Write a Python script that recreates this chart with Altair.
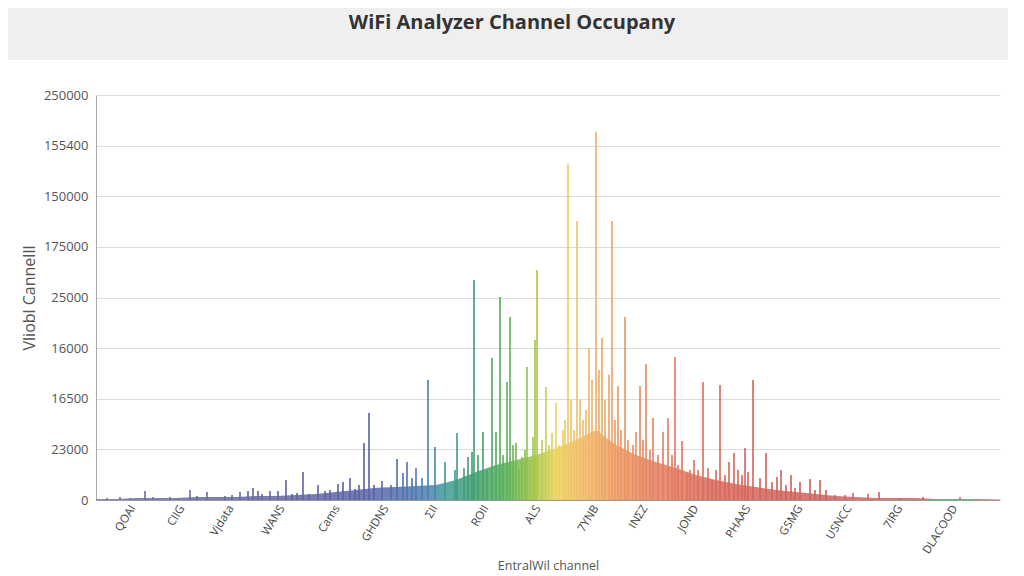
import json
import altair as alt
import pandas as pd

TITLE = "WiFi Analyzer Channel Occupany"
Y_TITLE = "Vliobl Cannelll"
X_TITLE = "EntralWil channel"

# y axis: evenly spaced gridlines carrying these labels (bottom -> top)
Y_LABELS = ["0", "23000", "16500", "16000", "25000", "175000", "150000", "155400", "250000"]
Y_STEP = 25000

# x axis tick positions (channel bins) and their labels
X_TICKS = [37, 86, 135, 186, 241, 290, 339, 390, 442, 500, 549, 600, 652, 704, 753, 804, 859]
X_LABELS = ["QOAI", "CIIG", "Vįdata", "WANS", "Cams", "GHDNS", "ΣII", "ROII", "ALS",
            "7YNB", "INΣZ", "JOND", "PHAAS", "GSMG", "USNCC", "7IRG", "DLACOOD"]
X_MAX = 904

# individual spikes: channel bin and occupancy value
SPIKE_X = [11, 24, 34, 49, 57, 74, 82, 94, 101, 111, 129, 136, 144, 152, 157, 162, 166, 174,
           182, 190, 196, 201, 207, 213, 222, 229, 234, 242, 247, 254, 259, 263, 268, 273,
           278, 286, 295, 301, 307, 311, 316, 320, 326, 332, 339, 349, 359, 361, 368, 372,
           376, 378, 382, 387, 391, 396, 400, 404, 407, 411, 414, 417, 420, 423, 426, 429,
           431, 434, 437, 439, 441, 446, 450, 453, 456, 460, 463, 467, 469, 472, 475, 478,
           481, 484, 487, 490, 493, 496, 500, 503, 506, 509, 513, 516, 519, 522, 525, 529,
           532, 537, 540, 544, 547, 550, 554, 557, 562, 567, 572, 576, 579, 582, 586, 591,
           594, 598, 602, 607, 612, 616, 620, 624, 629, 633, 638, 642, 646, 649, 652, 657,
           664, 670, 676, 681, 685, 690, 695, 699, 704, 714, 719, 724, 730, 739, 749, 757,
           772, 783, 804, 827, 864]
SPIKE_Y = [1000, 1500, 1000, 4400, 1500, 1500, 1000, 4900, 2000, 4000, 2000, 2500, 4000, 4400,
           5900, 4400, 3000, 4400, 4400, 9900, 3000, 3500, 13800, 3000, 7400, 4400, 4900, 7900,
           8900, 10900, 5400, 7400, 28200, 43000, 7400, 9400, 7400, 20300, 13300, 18800,
           10900, 15800, 10900, 59300, 26200, 18800, 14800, 33100, 15800, 21200, 23700,
           108700, 22200, 33600, 14800, 70100, 33600, 100300, 22200, 58300, 90400, 27200,
           28200, 14800, 21200, 24700, 65700, 19800, 31100, 79000, 113600, 29600, 55800,
           27200, 33100, 47900, 27200, 34600, 39500, 166000, 49400, 34600, 137800, 49400,
           39500, 44500, 75100, 59300, 181800, 64200, 80000, 49400, 61800, 137800, 39500,
           56300, 34600, 90400, 29600, 27200, 33600, 56300, 29600, 67200, 24700, 40500, 22200,
           33600, 40500, 22200, 70600, 17300, 29100, 13300, 14800, 19800, 14800, 58300, 15800,
           9900, 14800, 56800, 12400, 18800, 23200, 14800, 12400, 25700, 13800, 59300, 10900,
           23200, 8900, 11400, 14800, 7400, 12400, 5900, 8900, 10400, 4900, 9900, 4900, 2500,
           2500, 3500, 3000, 4000, 1000, 1500, 1500]

# dense background occupancy envelope
ENV_X = [0, 20, 40, 60, 80, 100, 120, 140, 160, 180, 200, 220, 240, 260, 280, 300, 320, 340,
         360, 380, 400, 420, 440, 460, 480, 500, 520, 540, 560, 580, 600, 620, 640, 660, 680,
         700, 720, 740, 760, 780, 800, 820, 840, 860, 880, 904]
ENV_Y = [500, 500, 1000, 1000, 1000, 1500, 1500, 1500, 2000, 2000, 2500, 3000, 4000, 5000,
         6000, 6400, 6900, 7400, 9900, 13800, 17300, 19800, 22200, 25700, 29600, 34600, 27200,
         22200, 18800, 15800, 12400, 9900, 7900, 6400, 4900, 4000, 3000, 2000, 1500, 1000,
         1000, 1000, 500, 500, 500, 300]

# rainbow colour stops along the channel axis
STOP_X = [0, 180, 270, 330, 350, 380, 410, 440, 460, 490, 520, 560, 620, 700, 904]
STOP_C = ["#6f7399", "#62669f", "#5961a6", "#4b7db0", "#3f9a96", "#3f9e6e", "#5ab05a",
          "#a8c848", "#ecd25e", "#f0b868", "#ec9a62", "#e48060", "#d9685a", "#d0605a",
          "#c96a6a"]

FONT = "Open Sans"

spikes = pd.DataFrame({"x": SPIKE_X, "v": SPIKE_Y})
env = pd.DataFrame({"x": ENV_X, "v": ENV_Y})
head = pd.DataFrame({"t": [TITLE]})

x_scale = alt.Scale(domain=[0, X_MAX], nice=False, zero=False)
y_scale = alt.Scale(domain=[0, Y_STEP * (len(Y_LABELS) - 1)], nice=False)

y_expr = json.dumps(Y_LABELS) + "[round(datum.value / %d)]" % Y_STEP
x_expr = "''"
for t, lab in reversed(list(zip(X_TICKS, X_LABELS))):
    x_expr = "datum.value === %d ? %s : (%s)" % (t, json.dumps(lab, ensure_ascii=False), x_expr)

x_axis = alt.Axis(values=X_TICKS, labelExpr=x_expr, labelAngle=-58, labelFontSize=11.5,
                  labelColor="#444", labelFont=FONT, ticks=False, grid=False,
                  domainColor="#999", title=X_TITLE, titleFont=FONT, titleFontSize=12.5,
                  titleFontWeight="normal", titleColor="#555", titlePadding=4, labelPadding=6)
y_axis = alt.Axis(values=[i * Y_STEP for i in range(len(Y_LABELS))], labelExpr=y_expr,
                  labelFontSize=13, labelColor="#555", labelFont=FONT, ticks=False,
                  gridColor="#dddddd", domainColor="#aaa", title=Y_TITLE, titleFont=FONT,
                  titleFontSize=16, titleFontWeight="normal", titleColor="#555",
                  titlePadding=6, labelPadding=8)

grad = alt.Gradient(
    gradient="linear",
    stops=[alt.GradientStop(color=c, offset=x / X_MAX) for x, c in zip(STOP_X, STOP_C)],
    x1=0, x2=1, y1=1, y2=1,
)

# grey header band behind the title
band = alt.Chart(head).mark_rect(color="#efefef").encode(
    x=alt.value(-88), x2=alt.value(912), y=alt.value(-87), y2=alt.value(-35)
)
title = alt.Chart(head).mark_text(
    font=FONT, fontSize=20, fontWeight="bold", color="#333", align="center", baseline="middle"
).encode(text="t:N", x=alt.value(416), y=alt.value(-72))

area = alt.Chart(env).mark_area(color=grad, opacity=0.85, interpolate="linear").encode(
    x=alt.X("x:Q", scale=x_scale, axis=x_axis),
    y=alt.Y("v:Q", scale=y_scale, axis=y_axis),
)

rules = alt.Chart(spikes).mark_rule(strokeWidth=1.8, opacity=0.9).encode(
    x=alt.X("x:Q", scale=x_scale),
    y=alt.Y("v:Q", scale=y_scale),
    y2=alt.datum(0),
    color=alt.Color("x:Q", scale=alt.Scale(domain=STOP_X, range=STOP_C, interpolate="rgb"),
                    legend=None),
)

chart = alt.layer(band, title, area, rules).properties(
    width=X_MAX, height=405, padding=0, background="white"
).configure_view(strokeWidth=0)

chart.save("out.html", embed_options={"renderer": "svg", "actions": False})
